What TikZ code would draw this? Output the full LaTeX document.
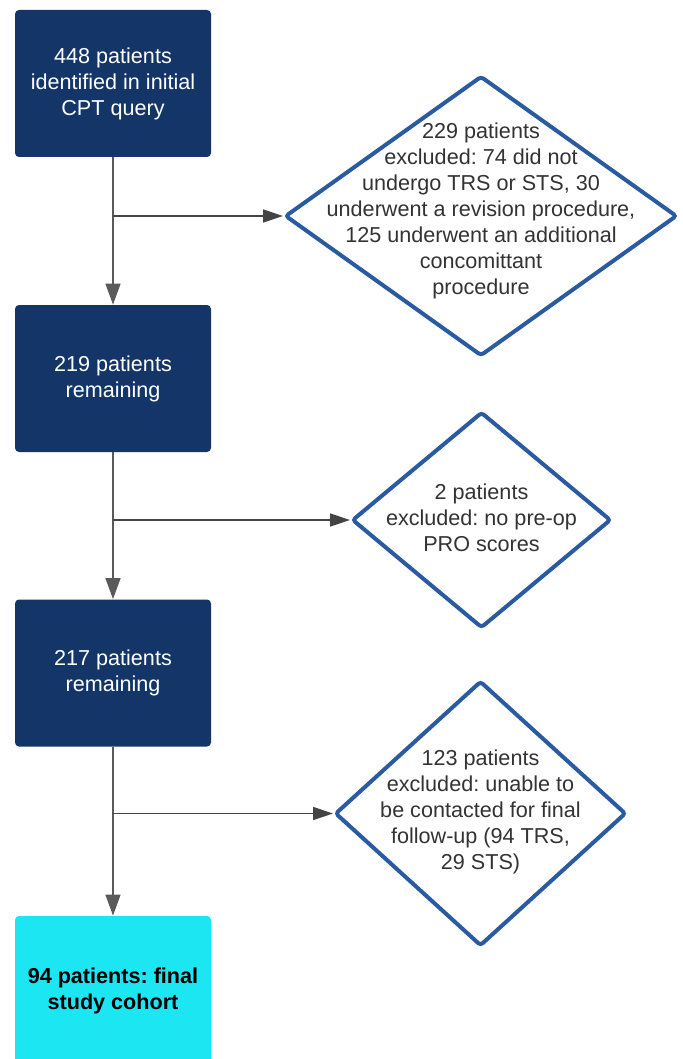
\documentclass[tikz,border=0pt]{standalone}
\usepackage{fontspec}
\setmainfont{Liberation Sans}
\frenchspacing
\usetikzlibrary{shapes.geometric, arrows.meta}
\definecolor{navy}{HTML}{143568}
\definecolor{cohort}{HTML}{1CE6F2}
\definecolor{rim}{HTML}{2A5BA0}
\definecolor{darktext}{HTML}{333333}
\definecolor{flowgray}{HTML}{5A5A5A}
\definecolor{branchgray}{HTML}{444444}

\begin{document}
\begin{tikzpicture}[x=0.5pt, y=-0.5pt,
    box/.style={rectangle, rounded corners=2pt, fill=navy, text=white,
        minimum width=98pt, minimum height=73.5pt, inner sep=0pt,
        align=center, font=\fontsize{10.8}{13}\selectfont},
    finalbox/.style={box, fill=cohort, text=black, minimum height=75pt,
        font=\fontsize{10.8}{13}\selectfont\bfseries},
    excl/.style={diamond, draw=rim, line width=2pt, rounded corners=1.5pt,
        fill=white, inner sep=0pt},
    excltext/.style={text=darktext, align=center, font=\fontsize{10.8}{13}\selectfont},
    flow/.style={draw=flowgray, line width=0.7pt, -{Triangle[length=10.5pt, width=7.5pt]}},
    branch/.style={draw=branchgray, line width=0.7pt, -{Triangle[length=10pt, width=6.5pt]}}]
    % page in pixel units of the reference, y downwards
    \useasboundingbox (0,0) rectangle (682,1059);

    % Main flow (left column)
    \node[box] (s1) at (113,83.5) {448 patients\\identified in initial\\CPT query};
    \node[box] (s2) at (113,378.5) {219 patients\\remaining};
    \node[box] (s3) at (113,673) {217 patients\\remaining};
    \node[finalbox] (s4) at (113,991) {94 patients: final\\study cohort};

    % Exclusions (right column)
    \node[excl, minimum width=196pt, minimum height=140pt] (ex1) at (481,216) {};
    \node[excltext] at (481,211) {229 patients\\excluded: 74 did not\\undergo TRS or STS, 30\\underwent a revision procedure,\\125 underwent an additional\\concomittant\\procedure};
    \node[excl, minimum width=129.5pt, minimum height=108pt] (ex2) at (481.5,520) {};
    \node[excltext] at (481.5,518) {2 patients\\excluded: no pre-op\\PRO scores};
    \node[excl, minimum width=145.5pt, minimum height=132.5pt] (ex3) at (480.5,813.5) {};
    \node[excltext] at (480.5,812) {123 patients\\excluded: unable to\\be contacted for final\\follow-up (94 TRS,\\29 STS)};

    % Arrows
    \draw[flow] (s1) -- (s2);
    \draw[flow] (s2) -- (s3);
    \draw[flow] (s3) -- (s4);
    \draw[branch] (s1.south |- ex1.west) -- (ex1.west);
    \draw[branch] (s2.south |- ex2.west) -- (ex2.west);
    \draw[branch] (s3.south |- ex3.west) -- (ex3.west);
\end{tikzpicture}
\end{document}
